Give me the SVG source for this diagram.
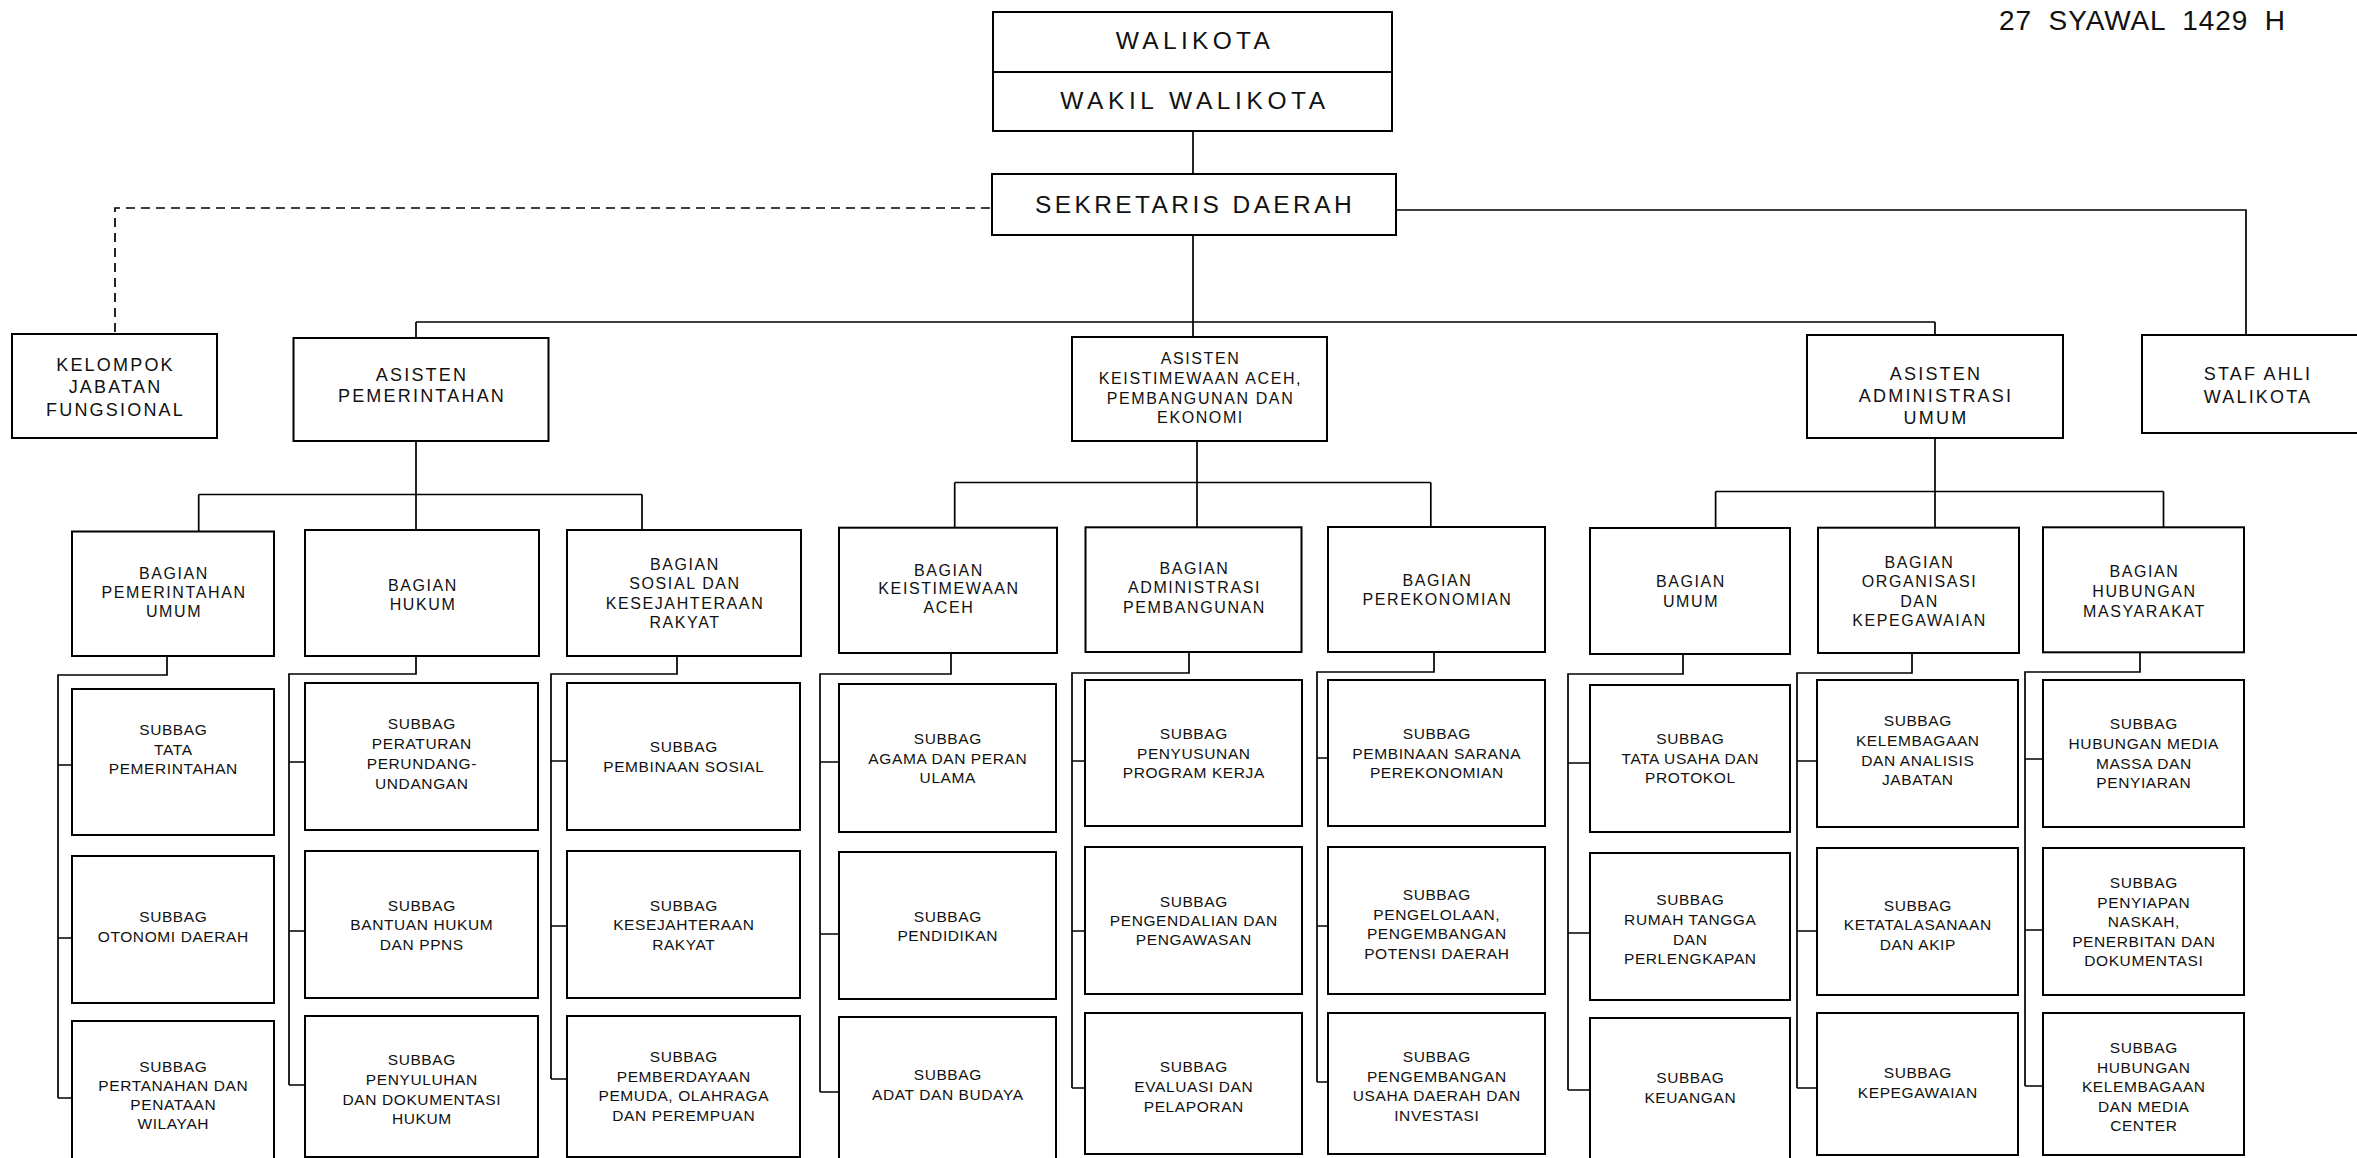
<svg xmlns="http://www.w3.org/2000/svg" width="2357" height="1158" viewBox="0 0 2357 1158">
<style>
.bg{fill:#fff}
.box{fill:#fff;stroke:#000;stroke-width:2}
.conn{fill:none;stroke:#000;stroke-width:1.7}
.dash{stroke-dasharray:9 6}
text{font-family:"Liberation Sans",Arial,sans-serif;fill:#111;text-anchor:middle}
.t-top{font-size:24.5px}
.t-date{font-size:28px;letter-spacing:0.9px;word-spacing:8px;text-anchor:start}
.t-as{font-size:18px;letter-spacing:2.2px}
.t-bag{font-size:16px;letter-spacing:1.6px}
.t-sub{font-size:15.5px;letter-spacing:0.6px}
</style>
<rect class="bg" x="0" y="0" width="2357" height="1158"/>

<g id="connectors">
<path class="conn" d="M1193 131V174M1193 235V337M416 322H1935M416 322V338M1935 322V335M1396 210H2246V335"/>
<path class="conn dash" d="M990 208H115V334"/>
<path class="conn" d="M416 441V530M198.7 494.5H642M198.7 494.5V531.5M642 494.5V530"/>
<path class="conn" d="M1197 441V527.3M954.7 482.5H1430.8M954.7 482.5V527.7M1430.8 482.5V527"/>
<path class="conn" d="M1935 438V527.7M1715.6 491.5H2163.5M1715.6 491.5V528M2163.5 491.5V527.3"/>
<path class="conn" d="M167 656V675H58V1098M58 765H72M58 938H72M58 1098H72"/>
<path class="conn" d="M416 656V674H289V1085M289 762H305M289 931H305M289 1085H305"/>
<path class="conn" d="M677 656V674H551V1079M551 761H567M551 926H567M551 1079H567"/>
<path class="conn" d="M951 653V674H820V1092M820 762H839M820 934H839M820 1092H839"/>
<path class="conn" d="M1189 652V673H1072V1088M1072 761H1085M1072 931H1085M1072 1088H1085"/>
<path class="conn" d="M1434 652V672H1317V1082M1317 758H1328M1317 926H1328M1317 1082H1328"/>
<path class="conn" d="M1683 654V674H1568V1090M1568 763H1590M1568 933H1590M1568 1090H1590"/>
<path class="conn" d="M1912 653V673H1797V1088M1797 761H1817M1797 931H1817M1797 1088H1817"/>
<path class="conn" d="M2140 652V672H2025V1086M2025 759H2043M2025 930H2043M2025 1086H2043"/>
</g>

<g id="tanggal"><text class="t-date" x="1999" y="30">27 SYAWAL 1429 H</text></g>

<g id="walikota"><rect class="box" x="993" y="12" width="399" height="60"/><text class="t-top" x="1195" y="49" letter-spacing="4.3">WALIKOTA</text></g>
<g id="wakil-walikota"><rect class="box" x="993" y="72" width="399" height="59"/><text class="t-top" x="1195" y="109" letter-spacing="4.6">WAKIL WALIKOTA</text></g>
<g id="sekretaris-daerah"><rect class="box" x="992" y="174" width="404" height="61"/><text class="t-top" x="1195" y="213" letter-spacing="3.4">SEKRETARIS DAERAH</text></g>

<g id="kelompok-jabatan-fungsional"><rect class="box" x="12" y="334" width="205" height="104"/><text class="t-as"><tspan x="115.5" y="371">KELOMPOK</tspan><tspan x="115.5" y="393.3">JABATAN</tspan><tspan x="115.5" y="416">FUNGSIONAL</tspan></text></g>
<g id="asisten-pemerintahan"><rect class="box" x="293.5" y="338" width="255" height="103"/><text class="t-as"><tspan x="422" y="380.7">ASISTEN</tspan><tspan x="422" y="402.3">PEMERINTAHAN</tspan></text></g>
<g id="asisten-keistimewaan"><rect class="box" x="1072" y="337" width="255" height="104"/><text class="t-bag"><tspan x="1200.5" y="364">ASISTEN</tspan><tspan x="1200.5" y="383.8">KEISTIMEWAAN ACEH,</tspan><tspan x="1200.5" y="403.6">PEMBANGUNAN DAN</tspan><tspan x="1200.5" y="423.4">EKONOMI</tspan></text></g>
<g id="asisten-administrasi-umum"><rect class="box" x="1807" y="335" width="256" height="103"/><text class="t-as"><tspan x="1936" y="379.5">ASISTEN</tspan><tspan x="1936" y="401.5">ADMINISTRASI</tspan><tspan x="1936" y="423.5">UMUM</tspan></text></g>
<g id="staf-ahli-walikota"><rect class="box" x="2142" y="335" width="240" height="98"/><text class="t-as"><tspan x="2258" y="380">STAF AHLI</tspan><tspan x="2258" y="403.3">WALIKOTA</tspan></text></g>

<g id="bagian-pemerintahan-umum"><rect class="box" x="72" y="531.5" width="202" height="124.5"/><text class="t-bag"><tspan x="174" y="579">BAGIAN</tspan><tspan x="174" y="598">PEMERINTAHAN</tspan><tspan x="174" y="617">UMUM</tspan></text></g>
<g id="bagian-hukum"><rect class="box" x="305" y="530" width="234" height="126"/><text class="t-bag"><tspan x="423" y="590.6">BAGIAN</tspan><tspan x="423" y="609.5">HUKUM</tspan></text></g>
<g id="bagian-sosial"><rect class="box" x="567" y="530" width="234" height="126"/><text class="t-bag"><tspan x="685" y="570">BAGIAN</tspan><tspan x="685" y="589.3">SOSIAL DAN</tspan><tspan x="685" y="608.6">KESEJAHTERAAN</tspan><tspan x="685" y="627.9">RAKYAT</tspan></text></g>
<g id="bagian-keistimewaan-aceh"><rect class="box" x="839" y="527.7" width="218" height="125.3"/><text class="t-bag"><tspan x="949" y="575.5">BAGIAN</tspan><tspan x="949" y="594.4">KEISTIMEWAAN</tspan><tspan x="949" y="613.3">ACEH</tspan></text></g>
<g id="bagian-administrasi-pembangunan"><rect class="box" x="1085.5" y="527.3" width="216" height="124.7"/><text class="t-bag"><tspan x="1194.5" y="573.5">BAGIAN</tspan><tspan x="1194.5" y="593.3">ADMINISTRASI</tspan><tspan x="1194.5" y="613.1">PEMBANGUNAN</tspan></text></g>
<g id="bagian-perekonomian"><rect class="box" x="1328" y="527" width="217" height="125"/><text class="t-bag"><tspan x="1437.5" y="586.4">BAGIAN</tspan><tspan x="1437.5" y="605.3">PEREKONOMIAN</tspan></text></g>
<g id="bagian-umum"><rect class="box" x="1590" y="528" width="200" height="126"/><text class="t-bag"><tspan x="1691" y="586.8">BAGIAN</tspan><tspan x="1691" y="606.8">UMUM</tspan></text></g>
<g id="bagian-organisasi"><rect class="box" x="1818" y="527.7" width="201" height="125.3"/><text class="t-bag"><tspan x="1919.5" y="568">BAGIAN</tspan><tspan x="1919.5" y="587.4">ORGANISASI</tspan><tspan x="1919.5" y="606.8">DAN</tspan><tspan x="1919.5" y="626.2">KEPEGAWAIAN</tspan></text></g>
<g id="bagian-humas"><rect class="box" x="2043" y="527.3" width="201" height="125"/><text class="t-bag"><tspan x="2144.5" y="577">BAGIAN</tspan><tspan x="2144.5" y="596.8">HUBUNGAN</tspan><tspan x="2144.5" y="616.6">MASYARAKAT</tspan></text></g>

<g id="subbag-tata-pemerintahan"><rect class="box" x="72" y="689" width="202" height="146"/><text class="t-sub"><tspan x="173.3" y="735">SUBBAG</tspan><tspan x="173.3" y="754.5">TATA</tspan><tspan x="173.3" y="774">PEMERINTAHAN</tspan></text></g>
<g id="subbag-otonomi-daerah"><rect class="box" x="72" y="856" width="202" height="147"/><text class="t-sub"><tspan x="173.3" y="921.7">SUBBAG</tspan><tspan x="173.3" y="941.7">OTONOMI DAERAH</tspan></text></g>
<g id="subbag-pertanahan"><rect class="box" x="72" y="1021" width="202" height="150"/><text class="t-sub"><tspan x="173.3" y="1071.7">SUBBAG</tspan><tspan x="173.3" y="1090.9">PERTANAHAN DAN</tspan><tspan x="173.3" y="1110.1">PENATAAN</tspan><tspan x="173.3" y="1129.3">WILAYAH</tspan></text></g>

<g id="subbag-peraturan"><rect class="box" x="305" y="683" width="233" height="147"/><text class="t-sub"><tspan x="421.8" y="729.3">SUBBAG</tspan><tspan x="421.8" y="749">PERATURAN</tspan><tspan x="421.8" y="768.7">PERUNDANG-</tspan><tspan x="421.8" y="788.5">UNDANGAN</tspan></text></g>
<g id="subbag-bantuan-hukum"><rect class="box" x="305" y="851" width="233" height="147"/><text class="t-sub"><tspan x="421.8" y="911">SUBBAG</tspan><tspan x="421.8" y="930.3">BANTUAN HUKUM</tspan><tspan x="421.8" y="949.5">DAN PPNS</tspan></text></g>
<g id="subbag-penyuluhan"><rect class="box" x="305" y="1016" width="233" height="141"/><text class="t-sub"><tspan x="421.8" y="1065.3">SUBBAG</tspan><tspan x="421.8" y="1085">PENYULUHAN</tspan><tspan x="421.8" y="1104.7">DAN DOKUMENTASI</tspan><tspan x="421.8" y="1124.4">HUKUM</tspan></text></g>

<g id="subbag-pembinaan-sosial"><rect class="box" x="567" y="683" width="233" height="147"/><text class="t-sub"><tspan x="683.8" y="752.3">SUBBAG</tspan><tspan x="683.8" y="772">PEMBINAAN SOSIAL</tspan></text></g>
<g id="subbag-kesejahteraan-rakyat"><rect class="box" x="567" y="851" width="233" height="147"/><text class="t-sub"><tspan x="683.8" y="911">SUBBAG</tspan><tspan x="683.8" y="930.3">KESEJAHTERAAN</tspan><tspan x="683.8" y="949.5">RAKYAT</tspan></text></g>
<g id="subbag-pemberdayaan"><rect class="box" x="567" y="1016" width="233" height="141"/><text class="t-sub"><tspan x="683.8" y="1062">SUBBAG</tspan><tspan x="683.8" y="1081.7">PEMBERDAYAAN</tspan><tspan x="683.8" y="1101.4">PEMUDA, OLAHRAGA</tspan><tspan x="683.8" y="1121.1">DAN PEREMPUAN</tspan></text></g>

<g id="subbag-agama"><rect class="box" x="839" y="684" width="217" height="148"/><text class="t-sub"><tspan x="947.8" y="744.3">SUBBAG</tspan><tspan x="947.8" y="763.8">AGAMA DAN PERAN</tspan><tspan x="947.8" y="783.3">ULAMA</tspan></text></g>
<g id="subbag-pendidikan"><rect class="box" x="839" y="852" width="217" height="147"/><text class="t-sub"><tspan x="947.8" y="921.7">SUBBAG</tspan><tspan x="947.8" y="941.2">PENDIDIKAN</tspan></text></g>
<g id="subbag-adat"><rect class="box" x="839" y="1017" width="217" height="150"/><text class="t-sub"><tspan x="947.8" y="1080">SUBBAG</tspan><tspan x="947.8" y="1099.5">ADAT DAN BUDAYA</tspan></text></g>

<g id="subbag-penyusunan"><rect class="box" x="1085" y="680" width="217" height="146"/><text class="t-sub"><tspan x="1193.8" y="739">SUBBAG</tspan><tspan x="1193.8" y="758.7">PENYUSUNAN</tspan><tspan x="1193.8" y="778.4">PROGRAM KERJA</tspan></text></g>
<g id="subbag-pengendalian"><rect class="box" x="1085" y="847" width="217" height="147"/><text class="t-sub"><tspan x="1193.8" y="907">SUBBAG</tspan><tspan x="1193.8" y="926">PENGENDALIAN DAN</tspan><tspan x="1193.8" y="945">PENGAWASAN</tspan></text></g>
<g id="subbag-evaluasi"><rect class="box" x="1085" y="1013" width="217" height="141"/><text class="t-sub"><tspan x="1193.8" y="1072">SUBBAG</tspan><tspan x="1193.8" y="1091.8">EVALUASI DAN</tspan><tspan x="1193.8" y="1111.6">PELAPORAN</tspan></text></g>

<g id="subbag-pembinaan-sarana"><rect class="box" x="1328" y="680" width="217" height="146"/><text class="t-sub"><tspan x="1436.8" y="739">SUBBAG</tspan><tspan x="1436.8" y="758.7">PEMBINAAN SARANA</tspan><tspan x="1436.8" y="778.4">PEREKONOMIAN</tspan></text></g>
<g id="subbag-pengelolaan"><rect class="box" x="1328" y="847" width="217" height="147"/><text class="t-sub"><tspan x="1436.8" y="900">SUBBAG</tspan><tspan x="1436.8" y="919.7">PENGELOLAAN,</tspan><tspan x="1436.8" y="939.4">PENGEMBANGAN</tspan><tspan x="1436.8" y="959.1">POTENSI DAERAH</tspan></text></g>
<g id="subbag-pengembangan-usaha"><rect class="box" x="1328" y="1013" width="217" height="141"/><text class="t-sub"><tspan x="1436.8" y="1062">SUBBAG</tspan><tspan x="1436.8" y="1081.7">PENGEMBANGAN</tspan><tspan x="1436.8" y="1101.4">USAHA DAERAH DAN</tspan><tspan x="1436.8" y="1121.1">INVESTASI</tspan></text></g>

<g id="subbag-tata-usaha"><rect class="box" x="1590" y="685" width="200" height="147"/><text class="t-sub"><tspan x="1690.3" y="744.3">SUBBAG</tspan><tspan x="1690.3" y="763.8">TATA USAHA DAN</tspan><tspan x="1690.3" y="783.3">PROTOKOL</tspan></text></g>
<g id="subbag-rumah-tangga"><rect class="box" x="1590" y="853" width="200" height="147"/><text class="t-sub"><tspan x="1690.3" y="905.3">SUBBAG</tspan><tspan x="1690.3" y="924.9">RUMAH TANGGA</tspan><tspan x="1690.3" y="944.5">DAN</tspan><tspan x="1690.3" y="964.1">PERLENGKAPAN</tspan></text></g>
<g id="subbag-keuangan"><rect class="box" x="1590" y="1018" width="200" height="150"/><text class="t-sub"><tspan x="1690.3" y="1083.3">SUBBAG</tspan><tspan x="1690.3" y="1103">KEUANGAN</tspan></text></g>

<g id="subbag-kelembagaan"><rect class="box" x="1817" y="680" width="201" height="147"/><text class="t-sub"><tspan x="1917.8" y="726">SUBBAG</tspan><tspan x="1917.8" y="745.8">KELEMBAGAAN</tspan><tspan x="1917.8" y="765.6">DAN ANALISIS</tspan><tspan x="1917.8" y="785.4">JABATAN</tspan></text></g>
<g id="subbag-ketatalaksanaan"><rect class="box" x="1817" y="848" width="201" height="147"/><text class="t-sub"><tspan x="1917.8" y="911">SUBBAG</tspan><tspan x="1917.8" y="930.3">KETATALASANAAN</tspan><tspan x="1917.8" y="949.5">DAN AKIP</tspan></text></g>
<g id="subbag-kepegawaian"><rect class="box" x="1817" y="1013" width="201" height="142"/><text class="t-sub"><tspan x="1917.8" y="1078.3">SUBBAG</tspan><tspan x="1917.8" y="1098">KEPEGAWAIAN</tspan></text></g>

<g id="subbag-media-massa"><rect class="box" x="2043" y="680" width="201" height="147"/><text class="t-sub"><tspan x="2143.8" y="729.3">SUBBAG</tspan><tspan x="2143.8" y="749">HUBUNGAN MEDIA</tspan><tspan x="2143.8" y="768.7">MASSA DAN</tspan><tspan x="2143.8" y="788.4">PENYIARAN</tspan></text></g>
<g id="subbag-penyiapan-naskah"><rect class="box" x="2043" y="848" width="201" height="147"/><text class="t-sub"><tspan x="2143.8" y="888.3">SUBBAG</tspan><tspan x="2143.8" y="907.8">PENYIAPAN</tspan><tspan x="2143.8" y="927.3">NASKAH,</tspan><tspan x="2143.8" y="946.8">PENERBITAN DAN</tspan><tspan x="2143.8" y="966.3">DOKUMENTASI</tspan></text></g>
<g id="subbag-hubungan-kelembagaan"><rect class="box" x="2043" y="1013" width="201" height="142"/><text class="t-sub"><tspan x="2143.8" y="1053.3">SUBBAG</tspan><tspan x="2143.8" y="1072.8">HUBUNGAN</tspan><tspan x="2143.8" y="1092.3">KELEMBAGAAN</tspan><tspan x="2143.8" y="1111.8">DAN MEDIA</tspan><tspan x="2143.8" y="1131.3">CENTER</tspan></text></g>
</svg>
